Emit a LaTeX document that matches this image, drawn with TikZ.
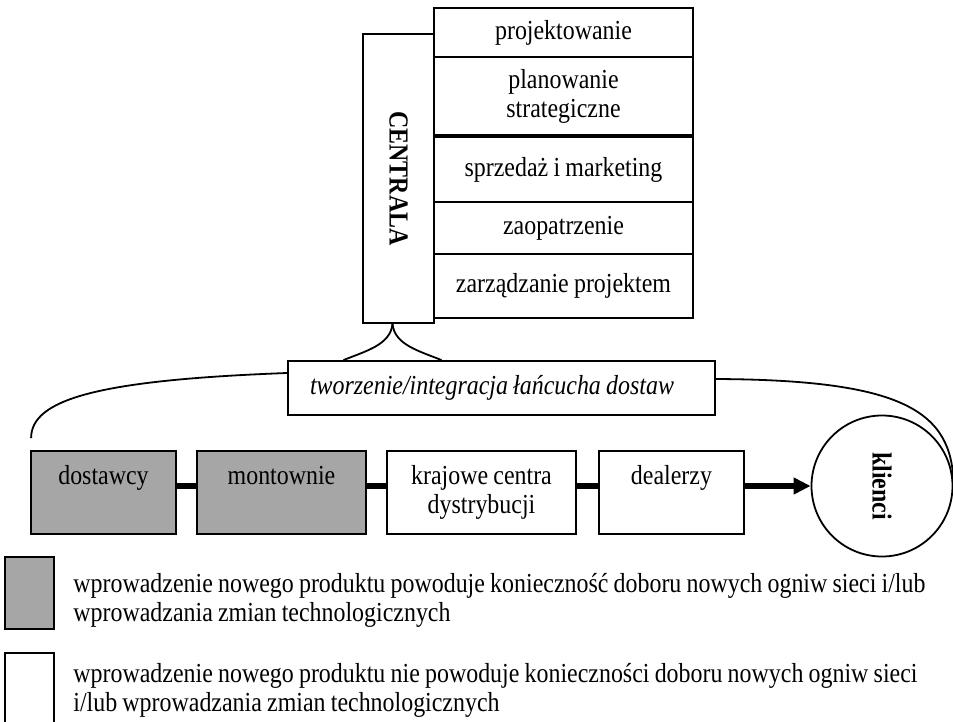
\documentclass[tikz,border=0pt]{standalone}
\usepackage{fontspec}
\setmainfont{Liberation Serif}[FakeStretch=0.87, WordSpace=0.87]
\usepackage{graphicx}
\usetikzlibrary{arrows.meta,calc}
\definecolor{shade}{gray}{0.65}

\begin{document}
\begin{tikzpicture}[x=0.5pt, y=-0.5pt,
  font=\fontsize{13.75pt}{14.5pt}\selectfont,
  box/.style={draw, line width=0.9pt, align=flush center, inner sep=2pt},
  dept/.style={box, minimum width=129.5pt, minimum height=#1},
  link/.style={box, text width=#1, inner xsep=2pt, inner ysep=0pt,
               text height=16.5pt, text depth=25pt},
  key/.style={box, minimum width=24.5pt},
  note/.style={align=flush left, inner sep=0pt, anchor=west},
  bar/.style={line width=3pt},
  curve/.style={line width=0.9pt},
]
\useasboundingbox (0,0) rectangle (953,722);
% headquarters
\node[box, minimum width=35.5pt, minimum height=144.5pt] (centrala) at (398.5,178.5) {\rotatebox{-90}{\bfseries CENTRALA}};
\node[dept=24.5pt] (proj) at (563.5,32.5)  {projektowanie};
\node[dept=39pt]   (plan) at (563.5,96)    {planowanie\\strategiczne};
\node[dept=32.5pt] (sprz) at (563.5,169.5) {sprzedaż i marketing};
\node[dept=26pt]   (zaop) at (563.5,228)   {zaopatrzenie};
\node[dept=32pt]   (zarz) at (563.5,286)   {zarządzanie projektem};
% integration
\node[box, minimum height=27pt, text width=191.5pt, inner xsep=11pt, align=flush left] (integr) at (501.5,388) {\itshape tworzenie/integracja łańcucha dostaw};
% supply chain
\node[link=68.5pt, fill=shade] (dost) at (103.5,492.5) {dostawcy};
\node[link=80.5pt, fill=shade] (mont) at (281.5,492.5) {montownie};
\node[link=90.5pt]             (kraj) at (481.5,492.5) {krajowe centra\\dystrybucji};
\node[link=68.5pt]             (deal) at (671.5,492.5) {dealerzy};
\node[box, circle, minimum size=70.5pt, inner sep=0pt] (klienci) at (882,486) {\rotatebox{-90}{\bfseries klienci}};
\draw[bar] ([yshift=3.25pt]dost.east) -- ([yshift=3.25pt]mont.west);
\draw[bar] ([yshift=3.25pt]mont.east) -- ([yshift=3.25pt]kraj.west);
\draw[bar] ([yshift=3.25pt]kraj.east) -- ([yshift=3.25pt]deal.east -| deal.west);
\draw[bar, -{Triangle[length=8.5pt, width=8pt]}] ([yshift=3.25pt]deal.east) -- (klienci);
% brace and arcs
\draw[curve] ($(centrala.south)+(-6,0)$) .. controls +(-2,21) and +(22,-9) .. ($(integr.north)+(-158,0)$);
\draw[curve] ($(centrala.south)+(-6,0)$) .. controls +(2,21) and +(-22,-9) .. ($(integr.north)+(-60,0)$);
\draw[curve] ($(integr.west)+(0,-15)$) .. controls +(-188,7) and +(0,-39) .. ($(dost.north west)+(1,-12)$);
\draw[curve] ($(integr.east)+(0,-9)$) .. controls +(185,1) and +(0,-76) .. (klienci.east);
% legend
\node[key, fill=shade, minimum height=36pt] (keyA) at (29.5,593) {};
\node[key, minimum height=50pt] (keyB) at (29.5,703) {};
\node[note] (noteA) at (73,600) {wprowadzenie nowego produktu powoduje konieczność doboru nowych ogniw sieci i/lub\\wprowadzania zmian technologicznych};
\node[note] (noteB) at (73,690) {wprowadzenie nowego produktu nie powoduje konieczności doboru nowych ogniw sieci\\i/lub wprowadzania zmian technologicznych};
\end{tikzpicture}
\end{document}
